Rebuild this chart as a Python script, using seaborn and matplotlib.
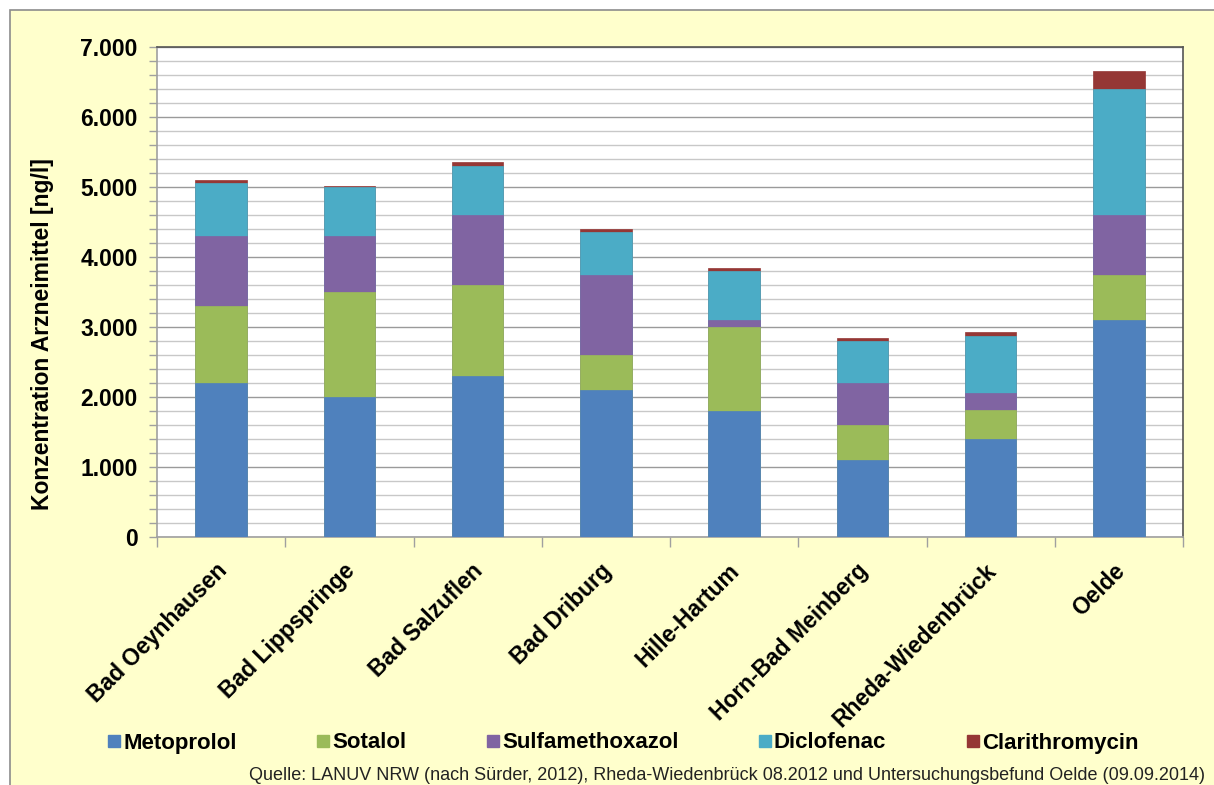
import numpy as np
import pandas as pd
import matplotlib
matplotlib.use("Agg")
import matplotlib.pyplot as plt
from matplotlib.patches import Rectangle
from matplotlib.lines import Line2D
from matplotlib.ticker import MultipleLocator, FuncFormatter
from matplotlib.transforms import ScaledTranslation
import seaborn as sns

# Kläranlagen-Standorte
orte = ["Bad Oeynhausen", "Bad Lippspringe", "Bad Salzuflen", "Bad Driburg",
        "Hille-Hartum", "Horn-Bad Meinberg", "Rheda-Wiedenbrück", "Oelde"]

# Konzentrationen je Wirkstoff [ng/l]
metoprolol = [2200, 2000, 2300, 2100, 1800, 1100, 1400, 3100]
sotalol = [1100, 1500, 1300, 500, 1200, 500, 420, 640]
sulfamethoxazol = [1000, 800, 1000, 1150, 100, 600, 240, 860]
diclofenac = [750, 700, 700, 600, 700, 600, 810, 1800]
clarithromycin = [50, 20, 50, 50, 50, 50, 55, 250]

stoffe = ["Metoprolol", "Sotalol", "Sulfamethoxazol", "Diclofenac", "Clarithromycin"]
farben = ["#4F81BD", "#9BBB59", "#8064A2", "#4BACC6", "#953735"]

quelle = ("Quelle: LANUV NRW (nach Sürder, 2012), Rheda-Wiedenbrück 08.2012 "
          "und Untersuchungsbefund Oelde (09.09.2014)")

sns.set_theme(style="white")
plt.rcParams["font.family"] = ["Liberation Sans", "DejaVu Sans"]
plt.rcParams["text.color"] = "black"
plt.rcParams["xtick.color"] = "black"
plt.rcParams["ytick.color"] = "black"

W, H = 1214, 785
bg = "#FFFFCC"
fig = plt.figure(figsize=(W / 100, H / 100), dpi=100)
fig.patch.set_facecolor("white")

# gelber Diagrammbereich mit grauem Rahmen
fig.patches.append(Rectangle((10 / W, -0.05), 1.2, 1 - 10 / H + 0.05,
                             transform=fig.transFigure, facecolor=bg,
                             edgecolor="#8C8C8C", linewidth=1.2, zorder=-5))

ax = fig.add_axes([157 / W, (H - 537) / H, (1183 - 157) / W, (537 - 47) / H])
ax.set_facecolor("white")

df = pd.DataFrame({"Ort": orte, "Metoprolol": metoprolol, "Sotalol": sotalol,
                   "Sulfamethoxazol": sulfamethoxazol, "Diclofenac": diclofenac,
                   "Clarithromycin": clarithromycin})
kum = df[stoffe].cumsum(axis=1)

# gestapelte Säulen: kumulierte Summen von oben nach unten überlagert
for stoff, farbe in reversed(list(zip(stoffe, farben))):
    sns.barplot(x=df["Ort"], y=kum[stoff], color=farbe, width=0.4,
                saturation=1, edgecolor=farbe, linewidth=0.5, ax=ax, zorder=3)

ax.set_ylim(0, 7000)
ax.set_xlim(-0.5, len(orte) - 0.5)
ax.yaxis.set_major_locator(MultipleLocator(1000))
ax.yaxis.set_minor_locator(MultipleLocator(200))
ax.yaxis.set_major_formatter(FuncFormatter(lambda v, p: f"{int(v):,}".replace(",", ".")))
ax.grid(axis="y", which="major", color="#9A9A9A", linewidth=1.0, zorder=0)
ax.grid(axis="y", which="minor", color="#C8C8C8", linewidth=1.0, zorder=0)
ax.set_axisbelow(True)

for s in ["left", "bottom"]:
    ax.spines[s].set_color("#A0A0A0")
    ax.spines[s].set_linewidth(1.2)
for s in ["top", "right"]:
    ax.spines[s].set_color("#555555")
    ax.spines[s].set_linewidth(1.2)

ax.tick_params(axis="y", which="both", left=True, direction="out",
               length=6, color="#A0A0A0", width=1, labelsize=16.5, pad=8,
               labelcolor="black")
for lab in ax.get_yticklabels():
    lab.set_fontweight("bold")

# Trennstriche zwischen den Kategorien
ax.set_xticks(np.arange(len(orte)))
ax.set_xticklabels(orte, rotation=45, ha="right", va="top",
                   rotation_mode="anchor", fontsize=16.5, fontweight="bold",
                   color="black")
ax.tick_params(axis="x", which="major", length=0, pad=16)
shift = ScaledTranslation(-6 / 100, 0, fig.dpi_scale_trans)
for lab in ax.get_xticklabels():
    lab.set_transform(lab.get_transform() + shift)
ax.set_xticks(np.arange(-0.5, len(orte)), minor=True)
ax.tick_params(axis="x", which="minor", bottom=True, direction="out",
               length=7, color="#A0A0A0", width=1)

ax.set_xlabel("")
ax.set_ylabel("")
fig.text(43 / W, 1 - 334 / H, "Konzentration Arzneimittel [ng/l]",
         rotation=90, ha="center", va="center", fontsize=16.5,
         fontweight="bold", color="black")

handles = [Line2D([], [], marker="s", linestyle="none", markersize=9,
                  markerfacecolor=f, markeredgecolor=f) for f in farben]
fig.legend(handles, stoffe, loc="center",
           bbox_to_anchor=(0.5 + 16 / W, 1 - 743 / H),
           ncol=5, frameon=False, handletextpad=0.1, columnspacing=3.6,
           prop={"size": 16, "weight": "bold"}, handlelength=0.6,
           labelcolor="black")

fig.text(1205 / W, 1 - 775 / H, quelle, ha="right", va="center",
         fontsize=13, color="#222222")

fig.savefig("out.png", dpi=100, facecolor=fig.get_facecolor())
